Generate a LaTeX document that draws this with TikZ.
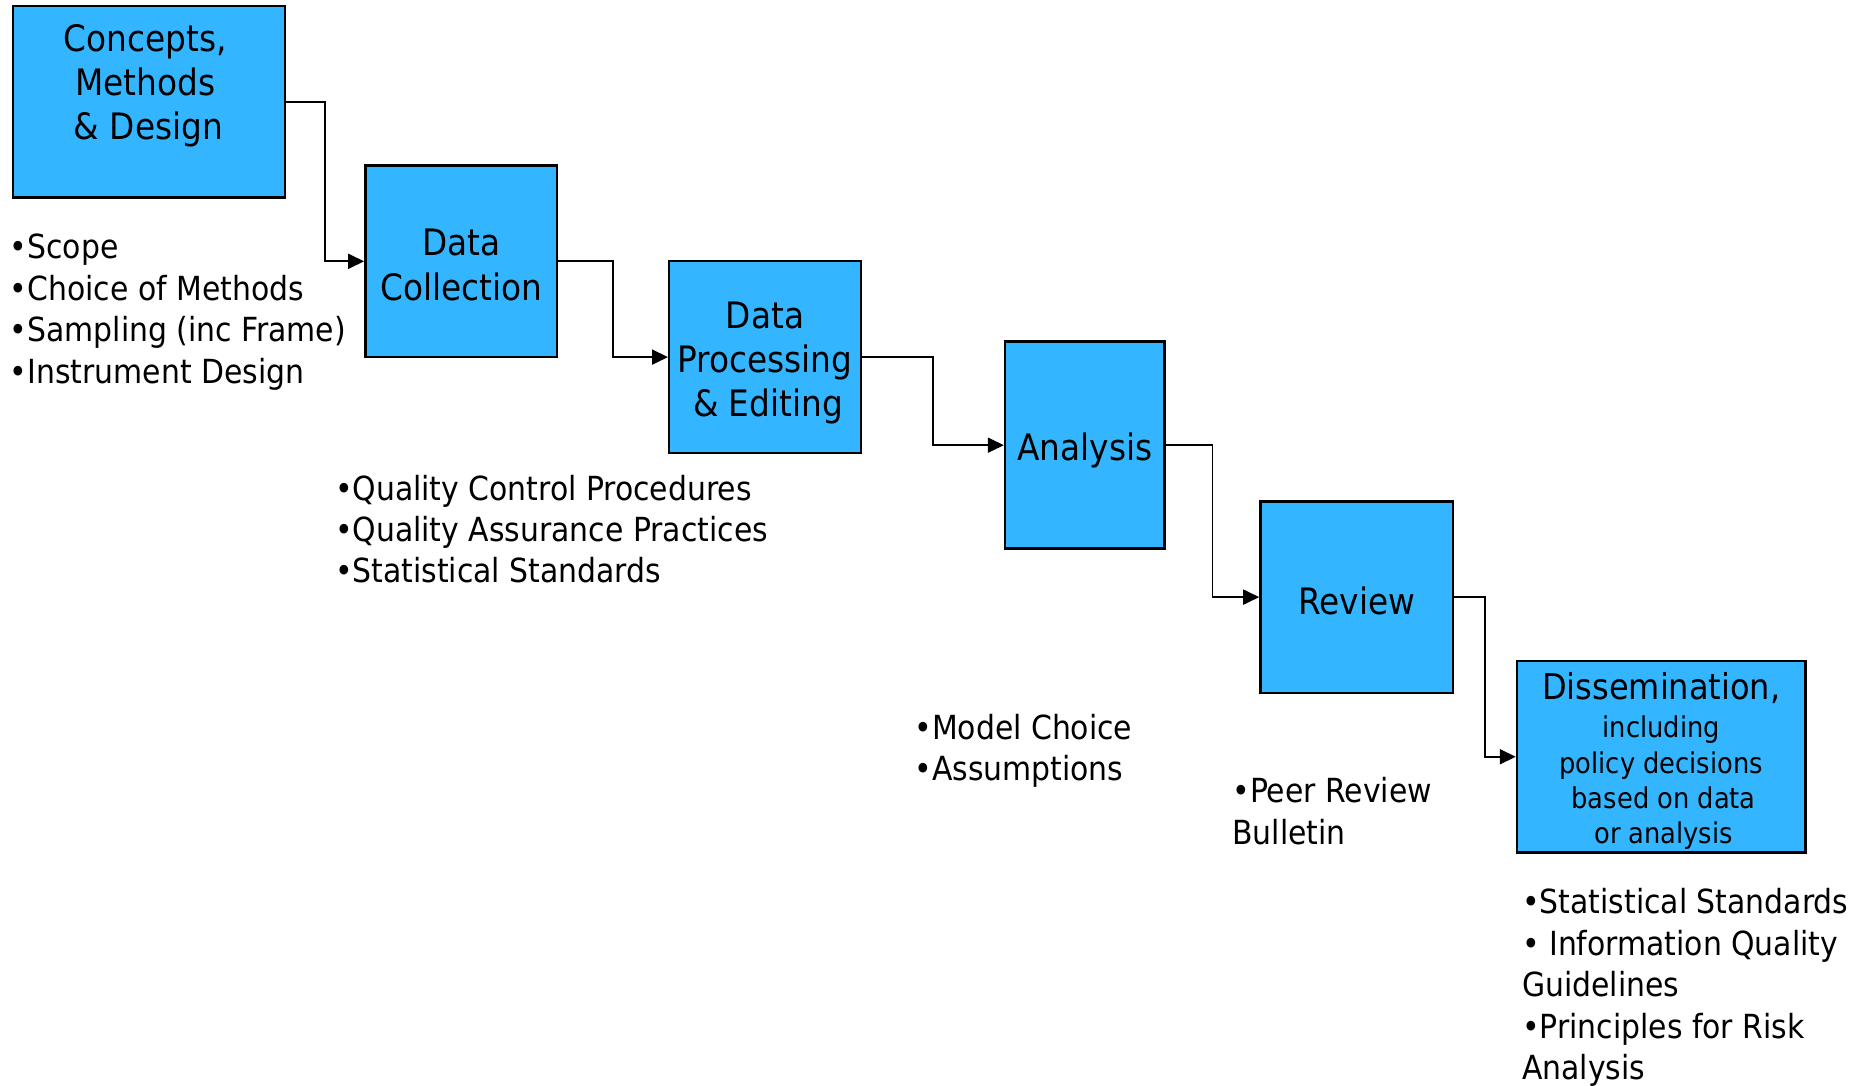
\documentclass[tikz,border=0pt]{standalone}
\usepackage{fontspec}
\setmainfont{DejaVu Sans Condensed}
\usetikzlibrary{arrows.meta,calc}
\definecolor{boxblue}{RGB}{51,182,255}
\begin{document}
\begin{tikzpicture}[x=0.5912pt,y=-0.5912pt,
  box/.style={draw=black,line width=1.2pt,fill=boxblue,inner sep=0pt},
  boxtxt/.style={align=center,font=\fontsize{18.2}{22.2}\selectfont,inner sep=0pt},
  smalltxt/.style={align=center,font=\fontsize{14.3}{17.7}\selectfont,inner sep=0pt},
  bul/.style={align=left,anchor=base west,font=\fontsize{16.6}{20.7}\selectfont,inner sep=0pt},
  conn/.style={line width=0.9pt,-{Triangle[length=8pt,width=7.5pt]}}]
\useasboundingbox (0,0) rectangle (1568,918);
% boxes
\node[box,minimum width=136pt,minimum height=95.8pt] (c1) at (126,86) {};
\node[boxtxt] (c1t) at (123,72.5) {Concepts,\\Methods\\\,\& Design};
\node[box,minimum width=95.8pt,minimum height=95.8pt,
  label={[boxtxt,yshift=-1.8pt]center:Data\\Collection}] (c2) at (390,221) {};
\node[box,minimum width=95.8pt,minimum height=95.8pt,
  label={[boxtxt,yshift=-3pt]center:Data\\Processing\\\,\& Editing}] (c3) at (647,302) {};
\node[box,minimum width=79.8pt,minimum height=103.5pt,
  label={[boxtxt,yshift=-2.8pt]center:Analysis}] (c4) at (917.5,376.5) {};
\node[box,minimum width=96.4pt,minimum height=95.8pt,
  label={[boxtxt,yshift=-1.8pt]center:Review}] (c5) at (1147.5,505) {};
\node[box,minimum width=144.3pt,minimum height=95.8pt,
  label={[smalltxt,yshift=-2.1pt]center:{\fontsize{17.8}{22}\selectfont Dissemination,}\\[1.6pt]including\\policy decisions\\\,based on data\\\,or analysis}] (c6) at (1405,640) {};
% connectors
\draw[conn] (c1.east) -| ($(c1.east)!.5!(c2.west)$) |- (c2.west);
\draw[conn] (c2.east) -| ($(c2.east)!.5!(c3.west)$) |- (c3.west);
\draw[conn] (c3.east) -| ($(c3.east)!.5!(c4.west)$) |- (c4.west);
\draw[conn] (c4.east) -| ($(c4.east)!.5!(c5.west)$) |- (c5.west);
\draw[conn] (c5.east) -| ($(c5.east)!.5!(c6.west)$) |- (c6.west);
% bullet lists (y = baseline of last line)
\node[bul] (b1) at (8,324) {•Scope\\•Choice of Methods\\•Sampling (inc Frame)\\•Instrument Design};
\node[bul] (b2) at (283,493) {•Quality Control Procedures\\•Quality Assurance Practices\\•Statistical Standards};
\node[bul] (b3) at (773,660) {•Model Choice\\•Assumptions};
\node[bul] (b4) at (1042,714) {•Peer Review\\Bulletin};
\node[bul] (b5) at (1287,913) {•Statistical Standards\\• Information Quality\\Guidelines\\•Principles for Risk\\Analysis};
\end{tikzpicture}
\end{document}
